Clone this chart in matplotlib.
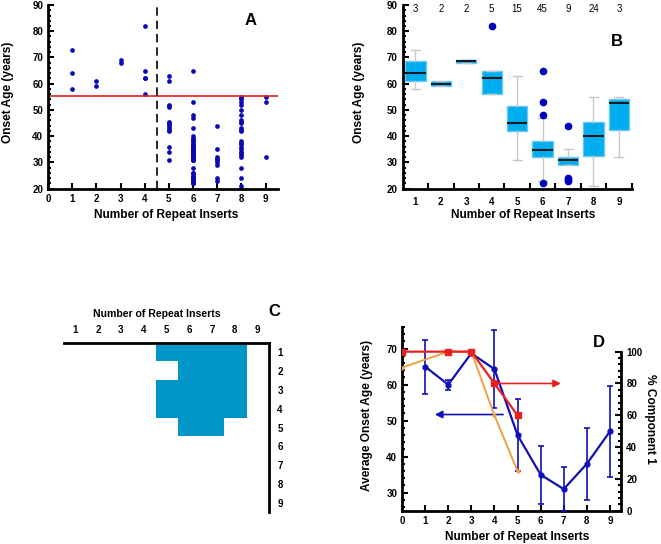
import numpy as np
import matplotlib.pyplot as plt
from matplotlib.colors import ListedColormap
from matplotlib.ticker import MultipleLocator

plt.rcParams['font.family'] = ['Liberation Sans', 'DejaVu Sans']

# Panel A - onset age of every patient, by number of repeat inserts
onset_r1 = [73, 64, 58]
onset_r2 = [61, 59]
onset_r3 = [69, 68]
onset_r4 = [82, 65, 62, 62, 56]
onset_r5 = [63, 61, 52, 51.5, 51, 45.5, 45, 44.5, 44, 43, 42.5, 42, 36, 34, 31]
onset_r6 = [65, 53, 48, 47, 43, 40, 39, 39, 38, 38, 37, 37, 36, 36, 36, 35, 35,
            35, 35, 34, 34, 34, 34, 33, 33, 33, 32, 32, 32, 31, 31, 31, 28, 26,
            26, 25, 25, 24, 24, 23, 23, 23, 22, 22, 22]
onset_r7 = [44, 35, 32, 31.5, 31, 30, 29, 24, 23]
onset_r8 = [55, 54.5, 54, 53, 52, 50, 48, 46, 45.5, 45, 43, 42.5, 42, 38, 37.5,
            37, 36, 35, 34, 33.5, 33, 32, 28, 24, 21]
onset_r9 = [55, 53, 32]
onset_groups = [onset_r1, onset_r2, onset_r3, onset_r4, onset_r5,
                onset_r6, onset_r7, onset_r8, onset_r9]
cutoff_age = 55.2
cutoff_repeats = 4.5

# Panel B - box statistics
repeats = [1, 2, 3, 4, 5, 6, 7, 8, 9]
n_per_group = [3, 2, 2, 5, 15, 45, 9, 24, 3]
box_q1 = [61, 59, 68, 56, 42, 32, 29, 32.5, 42.4]
box_med = [64, 60, 68.5, 62, 45, 34.7, 31, 40, 52.8]
box_q3 = [68.5, 61, 69, 65, 51.5, 38, 32, 45.5, 54]
box_wlo = [58, 59, 68, 56, 31, 23, 29, 21, 32]
box_whi = [73, 61, 69, 65, 63, 47, 35, 55, 55]
box_fliers = [[], [], [], [82], [], [65, 53, 48, 22], [44, 24, 23.5, 23], [], []]

# Panel C - grid of repeat-insert combinations
grid_on = np.zeros((9, 9))
grid_on[0, 4:8] = 1
grid_on[1, 5:8] = 1
grid_on[2, 4:8] = 1
grid_on[3, 4:8] = 1
grid_on[4, 5:7] = 1

# Panel D - mean onset age and % component 1
mean_x = [1, 2, 3, 4, 5, 6, 7, 8, 9]
mean_age = [65, 60, 68.7, 64.3, 46, 35, 31, 38, 47]
mean_err = [7.5, 1.4, 0.4, 10.8, 10, 8, 6.2, 10, 12.7]
comp_x = [0, 2, 3, 4, 5]
comp_red = [100, 100, 100, 80, 60]
comp_orange = [90, 100, 100, 60, 25]

blue = '#0a0ab4'
bold = dict(fontweight='bold')
W, H = 661, 544
TICK_FS = 7
LAB_FS = 8.6


def style_axes(ax):
    for s in ['top', 'right']:
        ax.spines[s].set_visible(False)
    for s in ['left', 'bottom']:
        ax.spines[s].set_linewidth(2)
    ax.tick_params(which='both', direction='in', width=1.5, labelsize=TICK_FS)
    ax.tick_params(which='major', length=4)
    ax.tick_params(which='minor', length=2.5)
    for lab in ax.get_xticklabels() + ax.get_yticklabels():
        lab.set_fontweight('bold')


def label(px, py, s, rot=0, fs=LAB_FS):
    # place a label by its centre, in picture pixels
    fig.text(px / W, 1 - py / H, s, rotation=rot, ha='center', va='center',
             fontsize=fs, fontweight='bold')


fig = plt.figure(figsize=(6.61, 5.44), dpi=100)

# ---- A
axA = fig.add_axes([0.0726, 0.6531, 0.3474, 0.3377])
for r, vals in zip(repeats, onset_groups):
    axA.plot([r] * len(vals), vals, 'o', color=blue, ms=3.4, mew=0)
axA.axhline(cutoff_age, color='#e02020', lw=1.2)
axA.axvline(cutoff_repeats, color='black', lw=1.2, ls=(0, (5, 3)))
axA.set_xlim(0, 9.5)
axA.set_ylim(20, 90)
axA.set_xticks(range(0, 10))
axA.yaxis.set_major_locator(MultipleLocator(10))
axA.yaxis.set_minor_locator(MultipleLocator(2))
style_axes(axA)
axA.text(8.4, 84, 'A', fontsize=12, ha='center', va='center', **bold)
label(166, 215, 'Number of Repeat Inserts')
label(8, 92, 'Onset Age (years)', rot=90)

# ---- B
axB = fig.add_axes([0.6092, 0.6531, 0.3464, 0.3377])
stats = []
for i in range(len(repeats)):
    stats.append(dict(q1=box_q1[i], med=box_med[i], q3=box_q3[i],
                      whislo=box_wlo[i], whishi=box_whi[i],
                      fliers=box_fliers[i]))
axB.bxp(stats, positions=repeats, widths=0.8, patch_artist=True,
        capwidths=0.35,
        boxprops=dict(facecolor='#00aeef', edgecolor='#6cc8ee', lw=1),
        medianprops=dict(color='#101820', lw=1.5),
        whiskerprops=dict(color='#c8c8c8', lw=1),
        capprops=dict(color='#c8c8c8', lw=1),
        flierprops=dict(marker='o', mfc='#0000c0', mec='#0000c0', ms=4.5))
for r, n in zip(repeats, n_per_group):
    axB.text(r, 88.5, str(n), fontsize=TICK_FS, ha='center', va='center')
axB.set_xlim(0.5, 9.5)
axB.set_ylim(20, 90)
axB.set_xticks(repeats)
axB.set_xticks(np.arange(1.5, 10, 1), minor=True)
axB.yaxis.set_major_locator(MultipleLocator(10))
axB.yaxis.set_minor_locator(MultipleLocator(2))
style_axes(axB)
axB.tick_params(axis='x', which='major', length=0, pad=6)
axB.tick_params(axis='x', which='minor', length=4)
axB.text(8.9, 76, 'B', fontsize=12, ha='center', va='center', **bold)
label(523, 215, 'Number of Repeat Inserts')
label(359, 92, 'Onset Age (years)', rot=90)

# ---- C
axC = fig.add_axes([0.0964, 0.0588, 0.3106, 0.3107])
axC.imshow(grid_on, cmap=ListedColormap(['white', '#0096c8']),
           extent=(0.5, 9.5, 9.5, 0.5), aspect='auto', interpolation='nearest')
axC.set_xlim(0.5, 9.5)
axC.set_ylim(9.5, 0.5)
for s in ['left', 'bottom']:
    axC.spines[s].set_visible(False)
for s in ['top', 'right']:
    axC.spines[s].set_linewidth(2)
axC.set_xticks(repeats)
axC.set_yticks(repeats)
axC.xaxis.tick_top()
axC.yaxis.tick_right()
axC.tick_params(length=0, labelsize=TICK_FS, pad=6)
for lab in axC.get_xticklabels() + axC.get_yticklabels():
    lab.set_fontweight('bold')
label(157, 314, 'Number of Repeat Inserts', fs=7.6)
fig.text(274 / W, 1 - 312 / H, 'C', fontsize=12, ha='center', va='center',
         **bold)

# ---- D
axD = fig.add_axes([0.6082, 0.0612, 0.332, 0.3377])
axD.errorbar(mean_x, mean_age, yerr=mean_err, color='#1010b8', lw=1.6,
             marker='o', ms=3.5, capsize=2.5, elinewidth=1.2, capthick=1.2,
             zorder=3)
axD.set_xlim(0, 9.5)
axD.set_ylim(25, 76)
axD.set_xticks(range(0, 10))
axD.yaxis.set_major_locator(MultipleLocator(10))
axD.yaxis.set_minor_locator(MultipleLocator(2))
style_axes(axD)
axD.text(8.52, 71.6, 'D', fontsize=12, ha='center', va='center', **bold)
axD.annotate('', xy=(1.3, 51.7), xytext=(4.5, 51.7),
             arrowprops=dict(arrowstyle='-|>', color='#1010b8', lw=1.2,
                             mutation_scale=11))

axD2 = axD.twinx()
axD2.plot(comp_x, comp_orange, color='#f0a040', lw=1.4, marker='o', ms=2,
          zorder=2)
axD2.plot(comp_x, comp_red, color='#e82020', lw=1.6, marker='s', ms=4,
          zorder=4)
axD2.annotate('', xy=(7.0, 80), xytext=(4.0, 80),
              arrowprops=dict(arrowstyle='-|>', color='#e82020', lw=1.2,
                              mutation_scale=11))
axD2.set_ylim(0, 115.5)
axD2.set_yticks(range(0, 101, 20))
axD2.set_yticks(range(0, 101, 4), minor=True)
for s in ['top', 'left', 'bottom']:
    axD2.spines[s].set_visible(False)
axD2.spines['right'].set_linewidth(2)
axD2.spines['right'].set_bounds(0, 100)
axD2.tick_params(which='both', direction='in', width=1.5, labelsize=TICK_FS)
axD2.tick_params(which='major', length=4)
axD2.tick_params(which='minor', length=2.5)
for lab in axD2.get_yticklabels():
    lab.set_fontweight('bold')
label(517, 537, 'Number of Repeat Inserts')
label(367, 415, 'Average Onset Age (years)', rot=90)
label(650, 419, '% Component 1', rot=270)

fig.savefig('out.png', dpi=100)
